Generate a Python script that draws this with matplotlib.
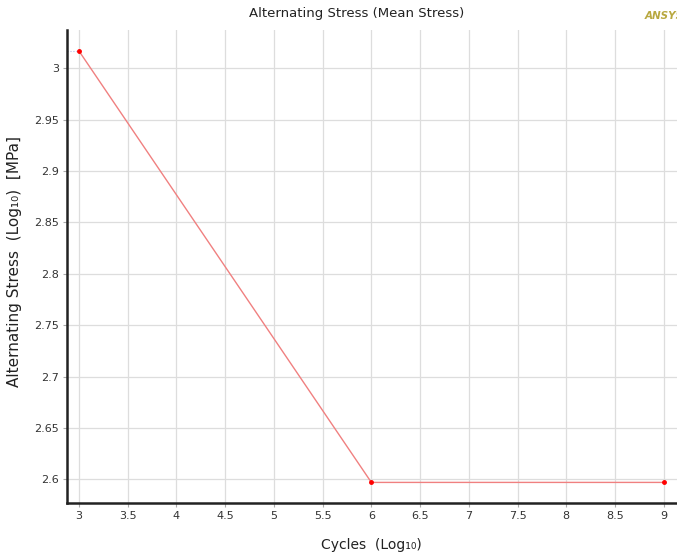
import matplotlib.pyplot as plt
from matplotlib.ticker import FuncFormatter, MultipleLocator

# Dados (log10 dos ciclos x log10 da tensão alternada)
ciclos_log = [3, 6, 9]
tensao_log = [3.0166, 2.597, 2.597]

fig = plt.figure(figsize=(6.77, 5.57), dpi=100)
ax = fig.add_axes([0.099, 0.097, 0.905, 0.849])

# linha pontilhada fraca do eixo até o primeiro ponto
ax.plot([2.877, ciclos_log[0]], [tensao_log[0], tensao_log[0]], color="#b0b8e8",
        linewidth=0.8, linestyle=":")
ax.plot(ciclos_log, tensao_log, color="#f08080", linewidth=1.0,
        marker="o", markersize=2.5, markerfacecolor="red", markeredgecolor="red")

ax.set_xlim(2.877, 9.164)
ax.set_ylim(2.577, 3.037)
ax.xaxis.set_major_locator(MultipleLocator(0.5))
ax.yaxis.set_major_locator(MultipleLocator(0.05))
fmt = FuncFormatter(lambda v, p: f"{v:g}")
ax.xaxis.set_major_formatter(fmt)
ax.yaxis.set_major_formatter(fmt)

ax.grid(True, color="#dddddd", linewidth=0.9)
ax.set_axisbelow(True)
for lado in ["top", "right"]:
    ax.spines[lado].set_visible(False)
for lado in ["left", "bottom"]:
    ax.spines[lado].set_linewidth(1.8)
    ax.spines[lado].set_color("#222222")
ax.tick_params(labelsize=8, length=3, pad=3, color="#aaaaaa", labelcolor="#333333")

fig.text(0.527, 0.975, "Alternating Stress (Mean Stress)", ha="center", va="center",
         fontsize=9.5, color="#222222")
fig.text(0.952, 0.972, "ANSYS", ha="left", va="center", fontsize=7.5,
         color="#b8a840", fontweight="bold", fontstyle="italic")
fig.text(0.548, 0.022, "Cycles  (Log\u2081\u2080)", ha="center", va="center",
         fontsize=10, color="#222222")
fig.text(0.021, 0.53, "Alternating Stress  (Log\u2081\u2080)  [MPa]", ha="center",
         va="center", rotation=90, fontsize=11, color="#222222")

plt.savefig("out.png", dpi=100)
